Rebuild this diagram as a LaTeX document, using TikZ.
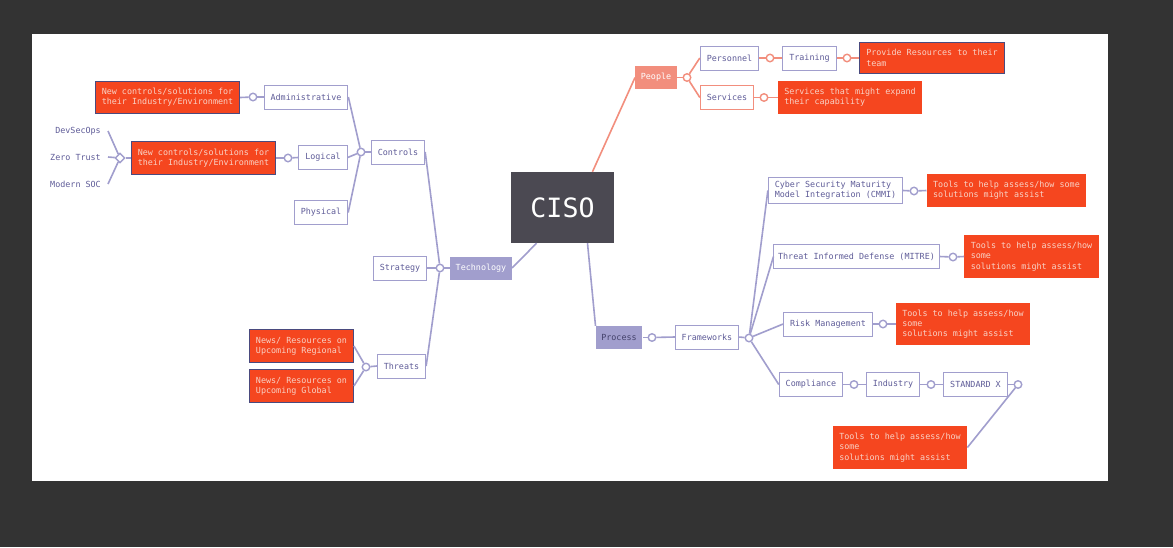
\documentclass[tikz,border=0pt]{standalone}
\usepackage{fontspec}
\setmonofont{DejaVu Sans Mono}
\usepackage{tikz}
\usetikzlibrary{shapes.geometric}

\definecolor{canvasgray}{HTML}{333333}
\definecolor{lav}{HTML}{A19ECD}
\definecolor{lavtext}{HTML}{5F5C98}
\definecolor{tomato}{HTML}{F5461F}
\definecolor{notetext}{HTML}{F8D2C6}
\definecolor{navy}{HTML}{4A4A7E}
\definecolor{peach}{HTML}{F28E7D}
\definecolor{cisogray}{HTML}{4B4952}

\begin{document}
\begin{tikzpicture}[x=1pt,y=-1pt,
	font=\ttfamily\fontsize{8.4}{10.3}\selectfont,
	box/.style={draw=lav, line width=0.9pt, fill=white, text=lavtext, minimum height=24pt, inner xsep=6.5pt},
	hub/.style={fill=lav, text=white, minimum height=23pt, inner xsep=5.6pt},
	note/.style={fill=tomato, text=notetext, align=left, inner xsep=6.5pt, inner ysep=7pt},
	notebox/.style={note, draw=navy, line width=0.8pt},
	tag/.style={text=lavtext, inner xsep=7pt},
	knob/.style={circle, draw=lav, fill=white, line width=1.4pt, minimum size=7.5pt, inner sep=0pt},
	knot/.style={diamond, draw=lav, fill=white, line width=1.4pt, minimum size=10pt, inner sep=0pt},
	link/.style={draw=lav, line width=1.6pt},
	peachlink/.style={draw=peach, line width=1.6pt}]
	\useasboundingbox (0,0) rectangle (1173,547);
	\fill[canvasgray] (0,0) rectangle (1173,547);
	\fill[white] (32,34) rectangle (1108,481);
	
	% centre
	\node[fill=cisogray, text=white, minimum width=103pt, minimum height=71pt, font=\ttfamily\fontsize{26.6}{30}\selectfont] (ciso) at (562.5,207.5) {CISO};
	\node[hub] (tech) at (481,268) {Technology};
	\node[hub, fill=peach] (people) at (656,77.5) {People};
	\node[hub, text=lavtext!70!black] (process) at (619,337.5) {Process};
	
	% technology
	\node[knob] (kTech) at (440,268) {};
	\node[box] (strategy) at (400,268) {Strategy};
	\node[box] (controls) at (398,152) {Controls};
	\node[box] (threats) at (401.5,366) {Threats};
	\node[knob] (kControls) at (361,152) {};
	\node[box] (adm) at (306,97) {Administrative};
	\node[box] (logical) at (323,157.5) {Logical};
	\node[box] (physical) at (321,212.5) {Physical};
	\node[knob] (kAdm) at (253,97) {};
	\node[notebox] (noteAdm) at (167.5,97.5) {New controls/solutions for\\their Industry/Environment};
	\node[knob] (kLogical) at (288,158) {};
	\node[notebox] (noteLogical) at (203.5,158) {New controls/solutions for\\their Industry/Environment};
	\node[knot] (kNoteLogical) at (120,158) {};
	\node[tag, anchor=east] (devsecops) at (108,131) {DevSecOps};
	\node[tag, anchor=east] (zerotrust) at (108,157) {Zero Trust};
	\node[tag, anchor=east] (modernsoc) at (108,184) {Modern SOC};
	\node[knob] (kThreats) at (366,367) {};
	\node[notebox] (regional) at (301.5,346) {News/ Resources on\\Upcoming Regional};
	\node[notebox] (global) at (301.5,386) {News/ Resources on\\Upcoming Global};
	
	% people
	\node[knob, draw=peach] (kPeople) at (687,77.5) {};
	\node[box] (personnel) at (729.5,58) {Personnel};
	\node[knob, draw=peach] (kPersonnel) at (770,58) {};
	\node[box] (training) at (809.5,58) {Training};
	\node[knob, draw=peach] (kTraining) at (847,58) {};
	\node[notebox] (noteTraining) at (932,58) {Provide Resources to their\\team};
	\node[box, draw=peach] (services) at (727,97.5) {Services};
	\node[knob, draw=peach] (kServices) at (764,97.5) {};
	\node[note] (noteServices) at (850,97.5) {Services that might expand\\their capability};
	
	% process
	\node[knob] (kProcess) at (652,337.5) {};
	\node[box] (frameworks) at (707,337) {Frameworks};
	\node[knob] (kFrameworks) at (749,338) {};
	\node[box, align=left] (cmmi) at (835.5,190.5) {Cyber Security Maturity\\Model Integration (CMMI)};
	\node[knob] (kCmmi) at (914,191) {};
	\node[note] (noteCmmi) at (1006.5,190.5) {Tools to help assess/how some\\solutions might assist};
	\node[box, inner xsep=4.2pt] (mitre) at (856.5,256.5) {Threat Informed Defense (MITRE)};
	\node[knob] (kMitre) at (953,257) {};
	\node[note] (noteMitre) at (1031.5,256.5) {Tools to help assess/how\\some\\solutions might assist};
	\node[box] (risk) at (828,324) {Risk Management};
	\node[knob] (kRisk) at (883,324) {};
	\node[note] (noteRisk) at (963,324) {Tools to help assess/how\\some\\solutions might assist};
	\node[box] (compliance) at (811,384.5) {Compliance};
	\node[knob] (kCompliance) at (854,384.5) {};
	\node[box] (industry) at (893,384.5) {Industry};
	\node[knob] (kIndustry) at (931,384.5) {};
	\node[box] (standard) at (975.5,384.5) {STANDARD X};
	\node[knob] (kStandard) at (1018,384.5) {};
	\node[note] (noteStandard) at (900,447.5) {Tools to help assess/how\\some\\solutions might assist};
	
	\path [link]
	(ciso.234) edge (tech.east)
	(ciso.305) edge (process.north west)
	(kTech) edge (tech.west)
	        edge (strategy.east)
	        edge (controls.east)
	        edge (threats.east)
	(kControls) edge (controls.west)
	            edge (adm.east)
	            edge (logical.east)
	            edge (physical.east)
	(kAdm) edge (adm.west)
	       edge (noteAdm.east)
	(kLogical) edge (logical.west)
	           edge (noteLogical.east)
	(kNoteLogical) edge (noteLogical.west)
	               edge (devsecops.east)
	               edge (zerotrust.east)
	               edge (modernsoc.east)
	(kThreats) edge (threats.west)
	           edge (regional.east)
	           edge (global.east)
	(kProcess) edge (process.east)
	           edge (frameworks.west)
	(kFrameworks) edge (frameworks.east)
	              edge (cmmi.west)
	              edge (mitre.west)
	              edge (risk.west)
	              edge (compliance.west)
	(kCmmi) edge (cmmi.east)
	        edge (noteCmmi.west)
	(kMitre) edge (mitre.east)
	         edge (noteMitre.west)
	(kRisk) edge (risk.east)
	        edge (noteRisk.west)
	(kCompliance) edge (compliance.east)
	              edge (industry.west)
	(kIndustry) edge (industry.east)
	            edge (standard.west)
	(kStandard) edge (standard.east)
	            edge (noteStandard.east);
	
	\path [peachlink]
	(ciso.50) edge (people.west)
	(kPeople) edge (people.east)
	          edge (personnel.west)
	          edge (services.west)
	(kPersonnel) edge (personnel.east)
	             edge (training.west)
	(kTraining) edge (training.east)
	            edge (noteTraining.west)
	(kServices) edge (services.east)
	            edge (noteServices.west);
\end{tikzpicture}
\end{document}
